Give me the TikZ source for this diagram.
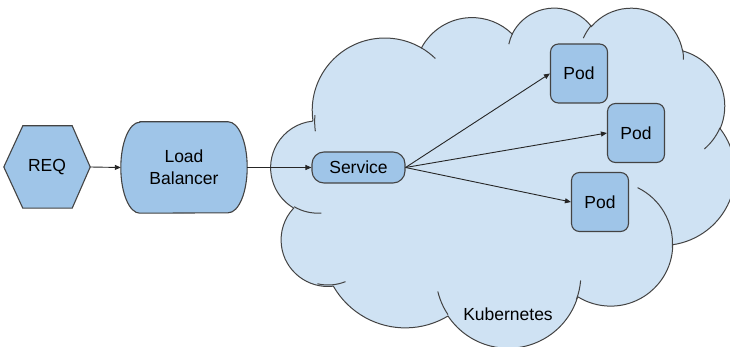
\documentclass[tikz,border=0pt]{standalone}
\usepackage{fontspec}
\setmainfont{Liberation Sans}
\usetikzlibrary{arrows.meta}
\definecolor{cloudfill}{HTML}{CFE2F3}
\definecolor{boxfill}{HTML}{9FC5E8}
\definecolor{edgegray}{HTML}{434343}
\newcommand\oocalc[5]{%
  \pgfmathsetmacro\ooA{atan2((#2)*sin(#4),(#3)*cos(#4))}%
  \pgfmathsetmacro\ooB{atan2((#2)*sin((#4)+(#5)),(#3)*cos((#4)+(#5)))}%
  \pgfmathsetmacro\ooB{\ooB+360*round((\ooA+(#5)-\ooB)/360)}%
  \tikzset{#1/.style/.expanded={start angle=\ooA, end angle=\ooB, x radius=#2, y radius=#3}}%
}
\begin{document}
\begin{tikzpicture}[x=1pt,y=-1pt,
  font=\fontsize{17.5}{22}\selectfont,
  shapebox/.style={draw=edgegray, fill=boxfill, line width=1.1pt},
  textbox/.style={inner sep=0pt, align=center},
  podbox/.style={shapebox, rounded corners=8pt, minimum width=57pt, minimum height=59pt, inner sep=0pt},
  conn/.style={draw=black!85, line width=0.9pt, -{Triangle[length=6pt,width=5pt]}},
  cloudline/.style={draw=edgegray, line width=1pt}]
\useasboundingbox (0,0) rectangle (730,347);
% cloud arcs (OOXML cloud geometry, scaled by 1/10)
\oocalc{cloudarcA}{675.3}{919.0}{-190.48748}{123.78053}
\oocalc{cloudarcB}{533.3}{726.7}{-144.10238}{89.94523}
\oocalc{cloudarcC}{436.5}{594.5}{-145.80792}{99.72302}
\oocalc{cloudarcD}{485.7}{659.5}{-130.98607}{117.24173}
\oocalc{cloudarcE}{533.3}{727.3}{-78.70888}{109.02692}
\oocalc{cloudarcF}{677.5}{922.0}{-46.26725}{130.269}
\oocalc{cloudarcG}{578.5}{786.7}{0.62502}{114.03333}
\oocalc{cloudarcH}{675.2}{921.5}{22.4516}{115.17255}
\oocalc{cloudarcI}{772.0}{1054.3}{66.24263}{75.71102}
\oocalc{cloudarcJ}{436.0}{591.8}{-274.94208}{146.73557}
\oocalc{cloudarcK}{434.5}{594.5}{-246.8285}{152.51885}
\oocalc{cloudinA}{434.5}{594.5}{86.742}{26.4295}
\oocalc{cloudinB}{436.0}{591.8}{73.61047}{26.17038}
\oocalc{cloudinC}{675.2}{921.5}{137.62415}{24.03522}
\oocalc{cloudinD}{675.2}{921.5}{6.4624}{20.31902}
\oocalc{cloudinE}{578.5}{786.7}{-70.29235}{76.20677}
\oocalc{cloudinF}{533.3}{727.3}{30.31803}{27.7515}
\oocalc{cloudinG}{485.7}{659.5}{-13.74433}{14.8589}
\oocalc{cloudinH}{485.7}{659.5}{-149.18145}{18.19537}
\oocalc{cloudinI}{436.5}{594.5}{-163.49427}{17.68635}
\oocalc{cloudinJ}{675.3}{919.0}{-66.70695}{12.31935}
\oocalc{cloudinK}{675.3}{919.0}{-190.48748}{17.37303}
\begin{scope}[shift={(271,7)}, x=0.10741pt, y=-0.0787pt]
  \path[cloudline, fill=cloudfill] (390,1437) arc[cloudarcA] arc[cloudarcB] arc[cloudarcC]
     arc[cloudarcD] arc[cloudarcE] arc[cloudarcF] arc[cloudarcG] arc[cloudarcH]
     arc[cloudarcI] arc[cloudarcJ] arc[cloudarcK] -- cycle;
  \path[cloudline] (469.3,2617.7) arc[cloudinA] (692.8,3489.9) arc[cloudinB]
     (1647.8,3909.0) arc[cloudinC] (2882.7,3475.1) arc[cloudinD]
     (3412.9,2295.4) arc[cloudinE] (4179.8,1535.4) arc[cloudinF]
     (3832.4,542.6) arc[cloudinG] (2907.8,395.2) arc[cloudinH]
     (2214.1,472.0) arc[cloudinI] (1400.0,519.2) arc[cloudinJ]
     (412.7,1578.9) arc[cloudinK];
\end{scope}
% REQ hexagon
\node[textbox, minimum width=86pt, minimum height=82pt] (req) at (47,167) {};
\path[shapebox] (req.west) -- ([xshift=19pt]req.north west) -- ([xshift=-18pt]req.north east)
   -- (req.east) -- ([xshift=-18pt]req.south east) -- ([xshift=19pt]req.south west) -- cycle;
\node[textbox] (reqtext) at (req.center) {REQ};
% Load balancer
\node[textbox, minimum width=126pt, minimum height=91pt] (lb) at (184,167.5) {};
\path[shapebox] ([xshift=19pt]lb.north west) -- ([xshift=-19pt]lb.north east)
   arc[start angle=90, end angle=-90, x radius=19pt, y radius=45.5pt]
   -- ([xshift=19pt]lb.south west)
   arc[start angle=270, end angle=90, x radius=19pt, y radius=45.5pt] -- cycle;
\node[textbox] (lbtext) at (lb.center) {Load\\Balancer};
% Service
\node[shapebox, rounded corners=12pt, minimum width=93pt, minimum height=31pt, inner sep=0pt] (svc) at (358.5,167.5) {Service};
% Pods
\node[podbox] (pod1) at (579,73.5) {Pod};
\node[podbox] (pod2) at (636,133) {Pod};
\node[podbox] (pod3) at (600,202) {Pod};
% label
\node[textbox] (k8s) at (508,314) {Kubernetes};
% connectors
\draw[conn] (req.east) -- (lb.west);
\draw[conn] (lb.east) -- (svc.west);
\draw[conn] (svc.east) -- (pod1.west);
\draw[conn] (svc.east) -- (pod2.west);
\draw[conn] (svc.east) -- (pod3.west);
\end{tikzpicture}
\end{document}
